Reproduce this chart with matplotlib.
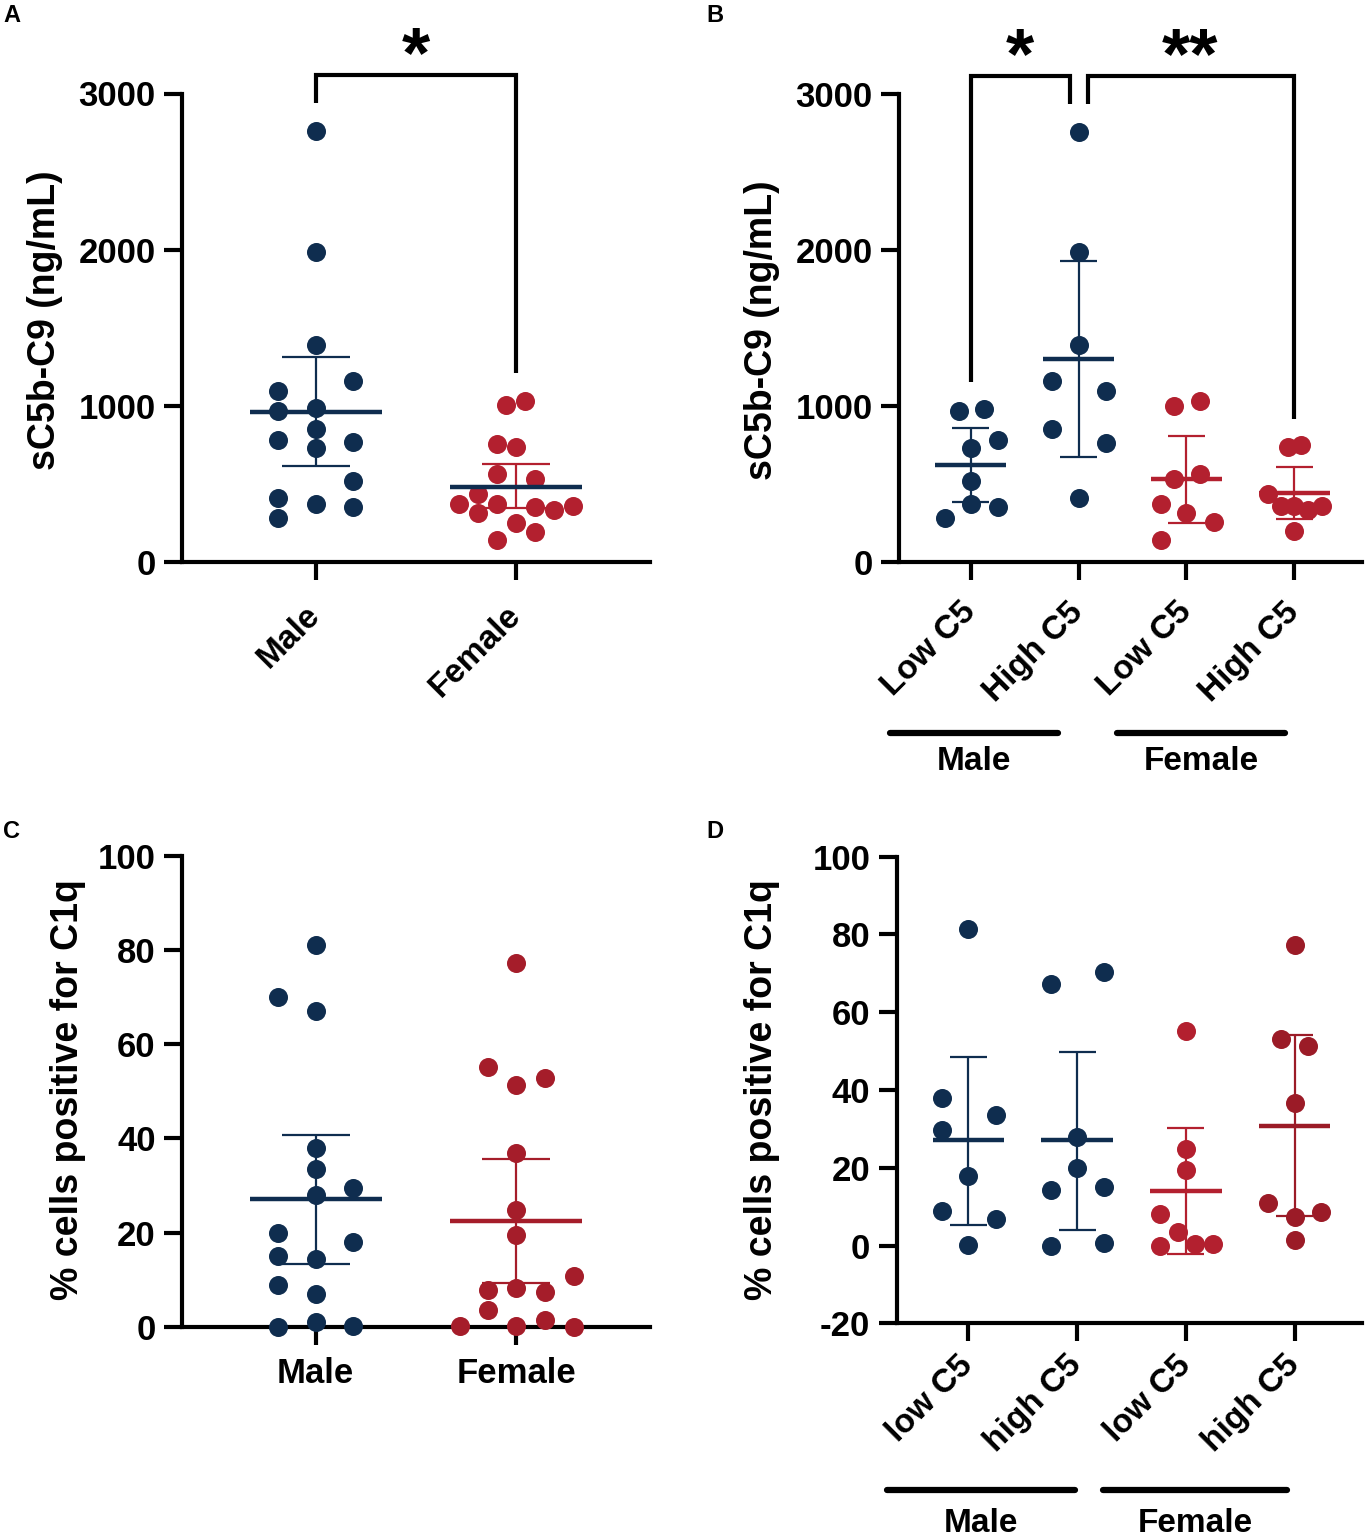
import numpy as np
import matplotlib
matplotlib.use("Agg")
import matplotlib.pyplot as plt
from matplotlib.transforms import blended_transform_factory

plt.rcParams["font.family"] = ["Liberation Sans", "DejaVu Sans"]
plt.rcParams["font.weight"] = "bold"
plt.rcParams["axes.unicode_minus"] = False

NAVY = "#0f2d4f"
RED = "#b3202f"
RED_C = "#a51d2a"
RED_DARK = "#9b1b27"

# ---- panel A: sC5b-C9 by sex ----
a_groups = ["Male", "Female"]
a_male = [2761, 1987, 1389, 1158, 1094, 966, 983, 851, 780, 769, 731, 517, 406, 368, 353, 278]
a_female = [1004, 1030, 754, 733, 560, 528, 432, 368, 368, 353, 331, 357, 310, 250, 192, 139]
a_mean = [962, 481]
a_ci_low = [613, 342]
a_ci_high = [1314, 624]

# ---- panel B: sC5b-C9 by sex and C5 level ----
b_groups = ["Low C5", "High C5", "Low C5", "High C5"]
b_low_m = [966, 983, 780, 731, 517, 368, 353, 278]
b_high_m = [2761, 1987, 1389, 1158, 1094, 851, 765, 406]
b_low_f = [1000, 1030, 560, 534, 368, 310, 252, 139]
b_high_f = [737, 752, 434, 359, 359, 331, 359, 199]
b_mean = [620, 1304, 528, 438]
b_ci_low = [385, 669, 246, 274]
b_ci_high = [855, 1928, 806, 609]

# ---- panel C: % cells positive for C1q by sex ----
c_groups = ["Male", "Female"]
c_male = [81.1, 70.0, 67.1, 37.9, 33.6, 29.5, 28.0, 20.0, 18.1, 15.0, 14.3, 8.9, 6.9, 0.0, 0.9, 0.1]
c_female = [77.3, 55.1, 52.8, 51.3, 37.0, 24.8, 19.5, 10.8, 7.9, 8.3, 7.3, 3.5, 1.4, 0.1, 0.1, 0.0]
c_mean = [27.1, 22.5]
c_ci_low = [13.3, 9.2]
c_ci_high = [40.7, 35.6]

# ---- panel D: % cells positive for C1q by sex and C5 level ----
d_groups = ["low C5", "high C5", "low C5", "high C5"]
d_low_m = [81.4, 38.0, 33.5, 29.6, 17.8, 8.8, 6.9, 0.1]
d_high_m = [67.3, 70.3, 27.9, 20.0, 14.4, 15.1, 0.0, 0.7]
d_low_f = [55.3, 24.9, 19.5, 8.0, 3.5, 0.0, 0.3, 0.3]
d_high_f = [77.4, 53.0, 51.2, 36.7, 11.0, 7.4, 8.6, 1.5]
d_mean = [27.1, 27.1, 14.0, 30.8]
d_ci_low = [5.4, 3.9, -2.1, 7.7]
d_ci_high = [48.5, 49.8, 30.1, 54.1]

# swarm offsets (fraction of category spacing), same order as the values
a_male_dx = [0, 0, 0, .186, -.186, -.186, 0, 0, -.186, .186, 0, .186, -.186, 0, .186, -.186]
a_female_dx = [-.05, .045, -.095, 0, -.095, .095, -.19, -.284, -.095, .095, .19, .284, -.19, 0, .095, -.095]
b_low_m_dx = [-.108, .127, .25, 0, 0, 0, .25, -.238]
b_high_m_dx = [0, 0, 0, -.244, .25, -.244, .25, 0]
b_low_f_dx = [-.114, .13, .13, -.114, -.238, 0, .253, -.238]
b_high_f_dx = [-.062, .062, -.24, -.123, 0, .123, .253, 0]
c_male_dx = [0, -.186, 0, 0, 0, .186, 0, -.186, .186, -.186, 0, -.186, 0, -.186, 0, .186]
c_female_dx = [0, -.141, .144, 0, 0, 0, 0, .287, -.141, 0, .144, -.141, .144, -.282, 0, .287]
d_low_m_dx = [0, -.24, .25, -.24, 0, -.24, .25, 0]
d_high_m_dx = [-.245, .245, 0, 0, -.245, .245, -.245, .245]
d_low_f_dx = [0, 0, 0, -.24, -.077, -.24, .083, .252]
d_high_f_dx = [0, -.123, .123, 0, -.247, 0, .247, 0]

W, H = 1368, 1537
fig = plt.figure(figsize=(W / 100, H / 100), dpi=100)


def px_axes(left, top, right, bottom):
    return fig.add_axes([left / W, 1 - bottom / H, (right - left) / W, (bottom - top) / H])


def style(ax, ylim, yticks):
    for s in ["top", "right"]:
        ax.spines[s].set_visible(False)
    for s in ["left", "bottom"]:
        ax.spines[s].set_linewidth(3)
    ax.set_ylim(*ylim)
    ax.set_yticks(yticks)
    ax.tick_params(direction="out", length=13, width=3, labelsize=25, pad=6)


def group(ax, x, vals, dx, color, mean, lo, hi, mean_color=None):
    ax.plot(x + np.array(dx), vals, "o", ms=13.7, color=color, mec="none",
            clip_on=False, zorder=3)
    ax.vlines(x, lo, hi, color=color, lw=1.6, zorder=4)
    ax.hlines([lo, hi], x - 0.17, x + 0.17, color=color, lw=1.6, zorder=4)
    ax.hlines(mean, x - 0.33, x + 0.33, color=mean_color or color, lw=3.2, zorder=4)


def bracket(ax, x0, x1, top, y0, y1):
    ax.plot([x0, x0, x1, x1], [y0, top, top, y1], color="black", lw=3,
            clip_on=False, solid_joinstyle="miter", solid_capstyle="butt")


def stars(ax, x, text):
    ax.text(x, 3225, text, ha="center", va="center", fontsize=52, fontweight="bold")


def sex_lines(ax, ypix, spans, labels, label_ypix):
    tr = blended_transform_factory(ax.transData, fig.transFigure)
    for (x0, x1), lab in zip(spans, labels):
        ax.plot([x0, x1], [1 - ypix / H] * 2, color="black", lw=4.5,
                solid_capstyle="round", transform=tr, clip_on=False)
        ax.text((x0 + x1) / 2, 1 - label_ypix / H, lab, transform=tr,
                ha="center", va="center", fontsize=24, fontweight="bold")


# ---------------- A ----------------
ax = px_axes(182, 93.5, 650, 561.7)
style(ax, (0, 3000), [0, 1000, 2000, 3000])
ax.set_xlim(-0.667, 1.667)
group(ax, 0, a_male, a_male_dx, NAVY, a_mean[0], a_ci_low[0], a_ci_high[0])
group(ax, 1, a_female, a_female_dx, RED, a_mean[1], a_ci_low[1], a_ci_high[1], mean_color=NAVY)
ax.set_xticks([0, 1])
ax.set_xticklabels(a_groups, rotation=45, ha="right", va="center",
                   rotation_mode="anchor", fontsize=24)
ax.tick_params(axis="x", pad=22)
bracket(ax, 0, 1, 3120, 2938, 1208)
stars(ax, 0.5, "*")

# ---------------- B ----------------
ax = px_axes(899, 94.3, 1362, 561.7)
style(ax, (0, 3000), [0, 1000, 2000, 3000])
ax.set_xlim(-0.664, 3.627)
group(ax, 0, b_low_m, b_low_m_dx, NAVY, b_mean[0], b_ci_low[0], b_ci_high[0])
group(ax, 1, b_high_m, b_high_m_dx, NAVY, b_mean[1], b_ci_low[1], b_ci_high[1])
group(ax, 2, b_low_f, b_low_f_dx, RED, b_mean[2], b_ci_low[2], b_ci_high[2])
group(ax, 3, b_high_f, b_high_f_dx, RED, b_mean[3], b_ci_low[3], b_ci_high[3])
ax.set_xticks(range(4))
ax.set_xticklabels(b_groups, rotation=45, ha="right", va="center",
                   rotation_mode="anchor", fontsize=24)
ax.tick_params(axis="x", pad=20)
bracket(ax, 0, 0.92, 3120, 1154, 2938)
bracket(ax, 1.09, 3, 3120, 2938, 919)
stars(ax, 0.457, "*")
stars(ax, 2.03, "**")
sex_lines(ax, 733, [(-0.748, 0.809), (1.357, 2.913)], ["Male", "Female"], 762)

# ---------------- C ----------------
ax = px_axes(182, 856, 650, 1326.7)
style(ax, (0, 100), range(0, 101, 20))
ax.set_xlim(-0.667, 1.667)
group(ax, 0, c_male, c_male_dx, NAVY, c_mean[0], c_ci_low[0], c_ci_high[0])
group(ax, 1, c_female, c_female_dx, RED_C, c_mean[1], c_ci_low[1], c_ci_high[1])
ax.set_xticks([0, 1])
ax.set_xticklabels(c_groups, fontsize=25)
ax.tick_params(axis="x", pad=9)

# ---------------- D ----------------
ax = px_axes(896.7, 856.7, 1362, 1323.3)
style(ax, (-20, 100), range(-20, 101, 20))
ax.set_xlim(-0.66, 3.62)
group(ax, 0, d_low_m, d_low_m_dx, NAVY, d_mean[0], d_ci_low[0], d_ci_high[0])
group(ax, 1, d_high_m, d_high_m_dx, NAVY, d_mean[1], d_ci_low[1], d_ci_high[1])
group(ax, 2, d_low_f, d_low_f_dx, RED, d_mean[2], d_ci_low[2], d_ci_high[2])
group(ax, 3, d_high_f, d_high_f_dx, RED_DARK, d_mean[3], d_ci_low[3], d_ci_high[3])
ax.set_xticks(range(4))
ax.set_xticklabels(d_groups, rotation=45, ha="right", va="center",
                   rotation_mode="anchor", fontsize=24)
ax.tick_params(axis="x", pad=14)
sex_lines(ax, 1490, [(-0.745, 0.98), (1.24, 2.93)], ["Male", "Female"], 1524)

# axis titles and panel letters
fig.text(45 / W, 1 - 320 / H, "sC5b-C9 (ng/mL)", rotation=90, ha="center", va="center", fontsize=27)
fig.text(762 / W, 1 - 330 / H, "sC5b-C9 (ng/mL)", rotation=90, ha="center", va="center", fontsize=27)
fig.text(68 / W, 1 - 1090 / H, "% cells positive for C1q", rotation=90, ha="center", va="center", fontsize=27)
fig.text(762 / W, 1 - 1090 / H, "% cells positive for C1q", rotation=90, ha="center", va="center", fontsize=27)
for lab, x, y in [("A", 12, 16), ("B", 715, 16), ("C", 12, 831), ("D", 715, 831)]:
    fig.text(x / W, 1 - y / H, lab, ha="center", va="center", fontsize=17)

fig.savefig("out.png", dpi=100)
